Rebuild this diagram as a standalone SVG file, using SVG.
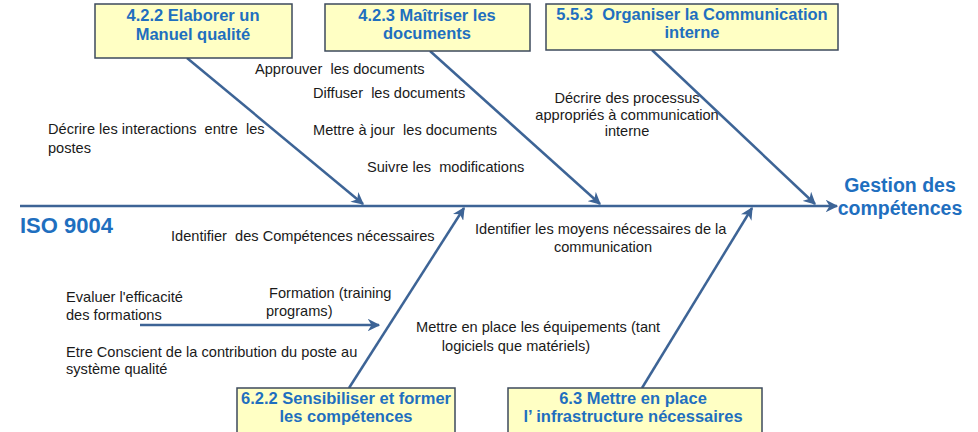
<svg xmlns="http://www.w3.org/2000/svg" width="978" height="432" viewBox="0 0 978 432">
<style>
.box{fill:#ffffc4;stroke:#3d4a5c;stroke-width:1.5}
.bt{font-family:"Liberation Sans",Arial,sans-serif;font-weight:bold;font-size:16.5px;fill:#1f6fbf;text-anchor:middle;white-space:pre}
.big{font-family:"Liberation Sans",Arial,sans-serif;font-weight:bold;fill:#1f6fbf}
.t{font-family:"Liberation Sans",Arial,sans-serif;font-size:14.6px;fill:#1a1a1a;white-space:pre}
.m{text-anchor:middle}
.ln{stroke:#3d6496;stroke-width:2.5;fill:none}
</style>
<defs>
<marker id="ah" viewBox="0 0 10 10" refX="9" refY="5" markerWidth="5" markerHeight="5" orient="auto" markerUnits="strokeWidth">
<path d="M0,0 L10,5 L0,10 L3,5 Z" fill="#3d6496"/>
</marker>
</defs>
<g id="connectors">
<line class="ln" x1="20" y1="206" x2="837" y2="206" marker-end="url(#ah)"/>
<line class="ln" x1="187" y1="58" x2="363" y2="204" marker-end="url(#ah)"/>
<line class="ln" x1="430" y1="51" x2="600" y2="204" marker-end="url(#ah)"/>
<line class="ln" x1="652" y1="50" x2="815" y2="204" marker-end="url(#ah)"/>
<line class="ln" x1="349" y1="388" x2="464" y2="208" marker-end="url(#ah)"/>
<line class="ln" x1="642" y1="388" x2="752" y2="208" marker-end="url(#ah)"/>
<line class="ln" x1="140" y1="325" x2="379" y2="325" marker-end="url(#ah)"/>
</g>
<g id="node-422">
<rect class="box" x="95" y="4" width="197" height="54"/>
<text class="bt" x="193" y="21">4.2.2 Elaborer un</text>
<text class="bt" x="193" y="40">Manuel qualité</text>
</g>
<g id="node-423">
<rect class="box" x="325" y="4" width="205" height="47"/>
<text class="bt" x="427" y="21">4.2.3 Maîtriser les</text>
<text class="bt" x="427" y="39">documents</text>
</g>
<g id="node-553">
<rect class="box" x="546" y="4" width="292" height="46"/>
<text class="bt" x="692" y="20">5.5.3  Organiser la Communication</text>
<text class="bt" x="692" y="38">interne</text>
</g>
<g id="node-622">
<rect class="box" x="237" y="388" width="218" height="48"/>
<text class="bt" x="346" y="404">6.2.2 Sensibiliser et former</text>
<text class="bt" x="346" y="422">les compétences</text>
</g>
<g id="node-63">
<rect class="box" x="508" y="388" width="254" height="48"/>
<text class="bt" x="633" y="404">6.3 Mettre en place</text>
<text class="bt" x="633" y="422">l’ infrastructure nécessaires</text>
</g>
<g id="node-iso">
<text class="big" x="20" y="233" font-size="22">ISO 9004</text>
</g>
<g id="node-gestion">
<text class="big" x="900" y="192" font-size="19.5" text-anchor="middle">Gestion des</text>
<text class="big" x="900" y="215" font-size="19.5" text-anchor="middle">compétences</text>
</g>
<g id="labels">
<text class="t" x="48" y="134">Décrire les interactions  entre  les</text>
<text class="t" x="48" y="153">postes</text>
<text class="t" x="255" y="74">Approuver  les documents</text>
<text class="t" x="313" y="98">Diffuser  les documents</text>
<text class="t" x="313" y="135">Mettre à jour  les documents</text>
<text class="t" x="367" y="172">Suivre les  modifications</text>
<text class="t m" x="627" y="103">Décrire des processus</text>
<text class="t m" x="627" y="120">appropriés à communication</text>
<text class="t m" x="627" y="136">interne</text>
<text class="t" x="171" y="241">Identifier  des Compétences nécessaires</text>
<text class="t" x="475" y="234">Identifier les moyens nécessaires de la</text>
<text class="t m" x="603" y="252">communication</text>
<text class="t" x="269" y="298">Formation (training</text>
<text class="t" x="266" y="316">programs)</text>
<text class="t" x="66" y="302">Evaluer l'efficacité</text>
<text class="t" x="66" y="320">des formations</text>
<text class="t" x="66" y="357">Etre Conscient de la contribution du poste au</text>
<text class="t" x="66" y="374">système qualité</text>
<text class="t" x="416" y="332">Mettre en place les équipements (tant</text>
<text class="t m" x="516" y="351">logiciels que matériels)</text>
</g>
</svg>
